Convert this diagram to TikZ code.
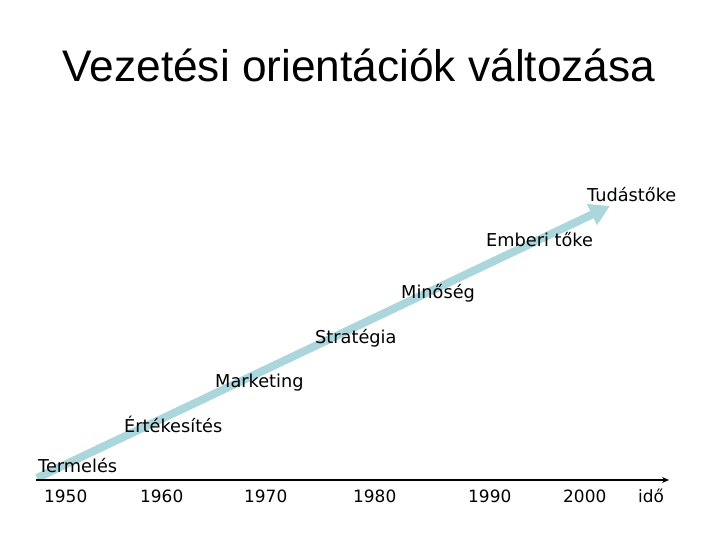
\documentclass[tikz,border=0pt]{standalone}
\usepackage{fontspec}
\setmainfont{DejaVu Sans}
\newfontfamily\titlefont{Liberation Sans}
\usetikzlibrary{arrows.meta}
\definecolor{trendblue}{RGB}{170,214,220}
\tikzset{
  lbl/.style={anchor=base west, inner sep=0pt, font=\fontsize{17.8}{20}\selectfont},
  yr/.style={anchor=base west, inner sep=0pt, font=\fontsize{17}{20}\selectfont},
}
\begin{document}
\begin{tikzpicture}[x=1bp,y=-1bp]
\useasboundingbox (0,0) rectangle (720,540);
\node[anchor=base, inner sep=0pt, font=\titlefont\fontsize{44.4}{50}\selectfont] (title) at (359,82) {Vezetési orientációk változása};
% trend arrow
\coordinate (ts) at (37,478);
\coordinate (te) at (610,206);
\draw[trendblue, line width=8bp, -{Triangle[length=20bp,width=22bp]}] (ts) -- (te);
% axis
\coordinate (a0) at (36,480);
\coordinate (a1) at (669,480);
\draw[line width=1.8bp, -{Stealth[length=7bp,width=6bp]}] (a0) -- (a1);
% labels
\node[lbl] (l1) at (587,201.5) {Tudástőke};
\node[lbl] (l2) at (486,246.5) {Emberi tőke};
\node[lbl] (l3) at (401,298.5) {Minőség};
\node[lbl] (l4) at (315,343.5) {Stratégia};
\node[lbl] (l5) at (215,387.5) {Marketing};
\node[lbl] (l6) at (124,432.5) {Értékesítés};
\node[lbl] (l7) at (38,472) {Termelés};
% years
\node[yr] (y1) at (44,502) {1950};
\node[yr] (y2) at (140,502) {1960};
\node[yr] (y3) at (244,502) {1970};
\node[yr] (y4) at (353,502) {1980};
\node[yr] (y5) at (468,502) {1990};
\node[yr] (y6) at (563,502) {2000};
\node[yr] (y7) at (638,502) {idő};
\end{tikzpicture}
\end{document}
